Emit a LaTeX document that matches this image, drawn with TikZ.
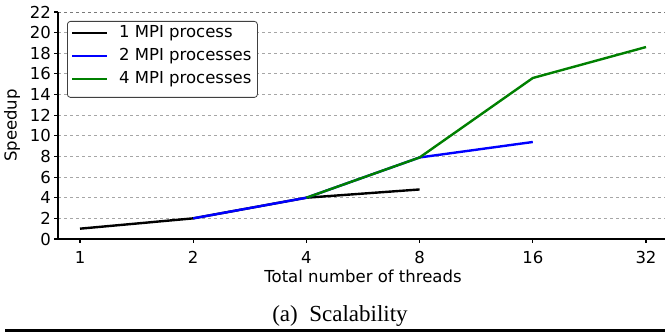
\documentclass[tikz,border=0pt]{standalone}
\usepackage{fontspec}
\setmainfont{Liberation Serif}
\newfontfamily\plotfont{DejaVu Sans}
\usepackage{xcolor}
\usepackage{tikz}
\usetikzlibrary{positioning}

\definecolor{mplgreen}{RGB}{0,128,0}

\begin{document}
\begin{tikzpicture}[x=1pt, y=1pt,
			grade/.style={gray!70, dash pattern=on 3pt off 3pt, line width=0.8pt},
			eixo/.style={black, line width=1.1pt},
			rotulo/.style={font=\plotfont\fontsize{16.5}{19}\selectfont, inner sep=0pt},
			serie/.style={line width=2.4pt, line join=round},
			legenda/.style={draw=black!75, fill=white, rounded corners=3pt, line width=0.8pt}
			]
			\useasboundingbox (0,0) rectangle (665,332);
			
			% Area do grafico (x em log2, y em speedup)
			\begin{scope}[shift={(80,93)}, x=113.2pt, y=10.32pt]
				% Grade horizontal
				\foreach \s in {2,4,...,20}
					\draw[grade] (-0.194,\s) -- (5.17,\s);
				\draw[grade, draw=gray!95!black] (-0.194,22) -- (5.17,22);
				
				% Eixos e marcas
				\draw[eixo] (-0.194,22) -- (-0.194,0) -- (5.17,0);
				\foreach \s in {0,2,...,22} {
					\draw[eixo] (-0.194,\s) -- ++(-4pt,0);
					\node[rotulo, anchor=east, xshift=-7pt] (ytick\s) at (-0.194,\s) {\s};
				}
				\foreach \n [count=\i from 0] in {1,2,4,8,16,32} {
					\draw[eixo] (\i,0) -- ++(0,-4pt);
					\node[rotulo, yshift=-18pt] (xtick\n) at (\i,0) {\n};
				}
				
				% Series
				\draw[serie, black] (0,1) -- (1,2) -- (2,4) -- (3,4.8);
				\draw[serie, blue] (1,2) -- (2,4) -- (3,7.9) -- (4,9.4);
				\draw[serie, mplgreen] (2,4) -- (3,7.9) -- (4,15.6) -- (5,18.6);
			\end{scope}
			
			% Legenda
			\node[legenda, minimum width=190pt, minimum height=76pt, anchor=north west] (leg) at (67,311) {};
			\draw[serie, black] (72,299) -- (107,299);
			\node[rotulo, anchor=west] (leg1) at (119,299) {1 MPI process};
			\draw[serie, blue] (72,276) -- (107,276);
			\node[rotulo, anchor=west] (leg2) at (119,276) {2 MPI processes};
			\draw[serie, mplgreen] (72,253) -- (107,253);
			\node[rotulo, anchor=west] (leg3) at (119,253) {4 MPI processes};
			
			% Titulos dos eixos e legenda da figura
			\node[rotulo, rotate=90] (ylabel) at (12,206.5) {Speedup};
			\node[rotulo] (xlabel) at (363,56) {Total number of threads};
			\node[font=\fontsize{23}{26}\selectfont, inner sep=0pt] (caption) at (340,16) {(a)~~Scalability};
			\fill[black] (5,0) rectangle (665,2.6);
			
		\end{tikzpicture}
\end{document}
